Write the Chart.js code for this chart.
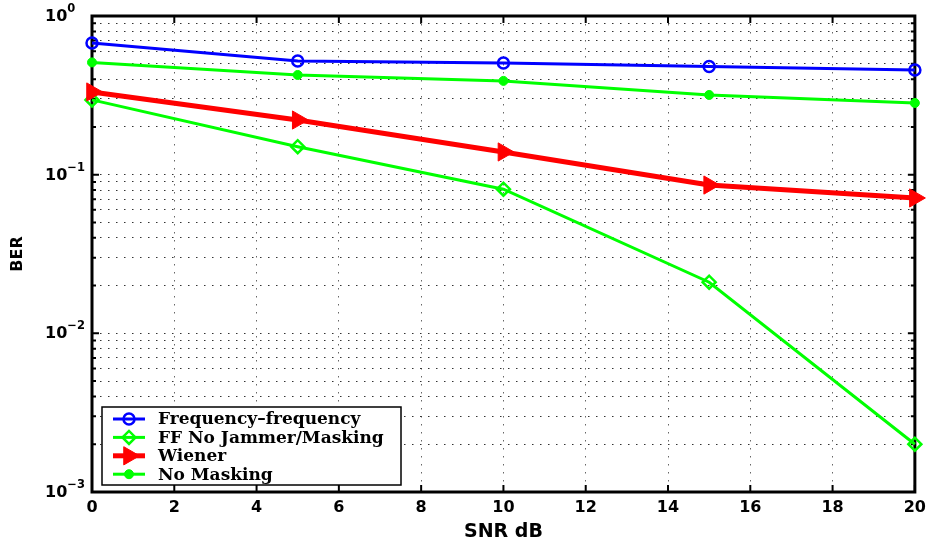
<!DOCTYPE html>
<html>
<head>
<meta charset="utf-8">
<script src="https://cdn.jsdelivr.net/npm/chart.js@4.4.0/dist/chart.umd.min.js"></script>
<style>
  html, body { margin: 0; padding: 0; background: #ffffff; }
  #wrap { width: 932px; height: 548px; }
</style>
</head>
<body>
<div id="wrap"><canvas id="ber" width="932" height="548"></canvas></div>
<script>
// SNR points (dB) and measured bit error rates for each receiver
const snr = [0, 5, 10, 15, 20];
const berFreqFreq = [0.676, 0.52, 0.506, 0.48, 0.457];
const berNoJammer = [0.296, 0.15, 0.081, 0.021, 0.002];
const berWiener = [0.332, 0.221, 0.139, 0.086, 0.0713];
const berNoMasking = [0.51, 0.425, 0.39, 0.318, 0.283];

const seriesLabels = ['Frequency\u2013frequency', 'FF No Jammer/Masking', 'Wiener', 'No Masking'];

// axis ticks
const xTickValues = [0, 2, 4, 6, 8, 10, 12, 14, 16, 18, 20];
const yDecadeExponents = [0, -1, -2, -3];
const yMantissas = [1, 2, 3, 4, 5, 6, 7, 8, 9];

const xTitle = 'SNR dB';
const yTitle = 'BER';

const toPoints = (ys) => snr.map((x, i) => ({ x: x, y: ys[i] }));

// every decade gets gridlines at 1..9 x 10^e
function logTickValues() {
  const vals = [];
  const minExp = Math.min(...yDecadeExponents);
  const maxExp = Math.max(...yDecadeExponents);
  for (let e = minExp; e < maxExp; e++) {
    yMantissas.forEach(m => vals.push(parseFloat((m * Math.pow(10, e)).toPrecision(3))));
  }
  vals.push(Math.pow(10, maxExp));
  return vals;
}

const TICK_FONT = 'bold 16px "DejaVu Sans", sans-serif';
const SUP_FONT = 'bold 11.5px "DejaVu Sans", sans-serif';

// axes box, inward tick marks and power-of-ten labels
const framePlugin = {
  id: 'frame',
  beforeDatasetsDraw(chart) {
    const { ctx, chartArea: a, scales } = chart;
    const xs = scales.x, ys = scales.y;
    ctx.save();
    ctx.strokeStyle = '#000';
    ctx.lineCap = 'butt';
    // x ticks, top and bottom
    ctx.lineWidth = 2;
    xTickValues.forEach(v => {
      const px = xs.getPixelForValue(v);
      ctx.beginPath();
      ctx.moveTo(px, a.bottom); ctx.lineTo(px, a.bottom - 7);
      ctx.moveTo(px, a.top); ctx.lineTo(px, a.top + 7);
      ctx.stroke();
    });
    // y ticks, left and right
    ys.ticks.forEach(t => {
      const py = ys.getPixelForValue(t.value);
      const lg = Math.log10(t.value);
      const major = Math.abs(lg - Math.round(lg)) < 1e-9;
      const len = major ? 7 : 4;
      ctx.beginPath();
      ctx.moveTo(a.left, py); ctx.lineTo(a.left + len, py);
      ctx.moveTo(a.right, py); ctx.lineTo(a.right - len, py);
      ctx.stroke();
    });
    // box
    ctx.lineWidth = 3;
    ctx.strokeRect(a.left, a.top, a.right - a.left, a.bottom - a.top);
    // y labels as 10^e
    ctx.fillStyle = '#000';
    ctx.textAlign = 'left';
    ctx.textBaseline = 'middle';
    yDecadeExponents.forEach(e => {
      const py = ys.getPixelForValue(Math.pow(10, e));
      const x0 = a.left - 47;
      ctx.font = TICK_FONT;
      ctx.fillText('10', x0, py + 1);
      const w = ctx.measureText('10').width;
      ctx.font = SUP_FONT;
      ctx.fillText(e < 0 ? '\u2212' + Math.abs(e) : String(e), x0 + w, py - 7);
    });
    ctx.restore();
  },
  afterDraw(chart) {
    // legend box in the lower-left corner of the plot
    const { ctx } = chart;
    const bx = 102, by = 407, bw = 299, bh = 78;
    ctx.save();
    ctx.fillStyle = '#fff';
    ctx.fillRect(bx, by, bw, bh);
    ctx.strokeStyle = '#000';
    ctx.lineWidth = 1.5;
    ctx.strokeRect(bx, by, bw, bh);
    const rowH = 18.4;
    chart.data.datasets.forEach((ds, i) => {
      const y = by + 12 + i * rowH;
      ctx.strokeStyle = ds.borderColor;
      ctx.lineWidth = ds.borderWidth;
      ctx.setLineDash([]);
      ctx.beginPath();
      ctx.moveTo(bx + 11, y); ctx.lineTo(bx + 43, y);
      ctx.stroke();
      ctx.fillStyle = ds.pointBackgroundColor;
      ctx.strokeStyle = ds.pointBorderColor;
      ctx.lineWidth = ds.pointBorderWidth;
      Chart.helpers.drawPoint(ctx, {
        pointStyle: ds.pointStyle,
        radius: ds.pointRadius,
        rotation: ds.pointRotation || 0,
        borderWidth: ds.pointBorderWidth
      }, bx + 27, y);
      ctx.fillStyle = '#000';
      ctx.font = 'bold 17px "DejaVu Serif", serif';
      ctx.textAlign = 'left';
      ctx.textBaseline = 'middle';
      ctx.fillText(ds.label, bx + 56, y + 1);
    });
    ctx.restore();
  }
};

new Chart(document.getElementById('ber'), {
  type: 'line',
  data: {
    datasets: [
      {
        label: seriesLabels[0], data: toPoints(berFreqFreq), order: 4,
        borderColor: '#0000ff', borderWidth: 3,
        pointStyle: 'circle', pointRadius: 5.5, pointBorderWidth: 2.5,
        pointBorderColor: '#0000ff', pointBackgroundColor: 'rgba(0,0,0,0)'
      },
      {
        label: seriesLabels[1], data: toPoints(berNoJammer), order: 3,
        borderColor: '#00ff00', borderWidth: 3,
        pointStyle: 'rectRot', pointRadius: 6.5, pointBorderWidth: 2.5,
        pointBorderColor: '#00ff00', pointBackgroundColor: 'rgba(0,0,0,0)'
      },
      {
        label: seriesLabels[2], data: toPoints(berWiener), order: 2,
        borderColor: '#ff0000', borderWidth: 5,
        pointStyle: 'triangle', pointRotation: 90, pointRadius: 10.5, pointBorderWidth: 1,
        pointBorderColor: '#ff0000', pointBackgroundColor: '#ff0000'
      },
      {
        label: seriesLabels[3], data: toPoints(berNoMasking), order: 1,
        borderColor: '#00ff00', borderWidth: 3,
        pointStyle: 'circle', pointRadius: 4.5, pointBorderWidth: 1,
        pointBorderColor: '#00ff00', pointBackgroundColor: '#00ff00'
      }
    ].map(d => Object.assign({ tension: 0, clip: false, fill: false, pointHoverRadius: d.pointRadius }, d))
  },
  options: {
    responsive: false,
    devicePixelRatio: 1,
    animation: false,
    events: [],
    layout: { padding: { top: 16, right: 16, left: 0, bottom: 0 } },
    plugins: { legend: { display: false }, tooltip: { enabled: false } },
    scales: {
      x: {
        type: 'linear', min: 0, max: 20,
        afterBuildTicks: (s) => { s.ticks = xTickValues.map(v => ({ value: v })); },
        afterFit: (s) => { s.height = 56; },
        ticks: { color: '#000', font: { family: 'DejaVu Sans', weight: 'bold', size: 16 }, padding: 6, maxRotation: 0 },
        grid: { color: 'rgba(0,0,0,0.6)', lineWidth: 1, drawTicks: false },
        border: { display: false, dash: [1.5, 6.5] },
        title: { display: true, text: xTitle, color: '#000', font: { family: 'DejaVu Sans', weight: 'bold', size: 19 }, padding: { top: 0, bottom: 5 } }
      },
      y: {
        type: 'logarithmic', min: 0.001, max: 1,
        afterBuildTicks: (s) => { s.ticks = logTickValues().map(v => ({ value: v })); },
        afterFit: (s) => { s.width = 92; },
        ticks: { display: false },
        grid: { color: 'rgba(0,0,0,0.8)', lineWidth: 1, drawTicks: false },
        border: { display: false, dash: [1.5, 6.5] },
        title: { display: true, text: yTitle, color: '#000', font: { family: 'DejaVu Sans', weight: 'bold', size: 16 }, padding: { top: 8, bottom: 0 } }
      }
    }
  },
  plugins: [framePlugin]
});
</script>
</body>
</html>
